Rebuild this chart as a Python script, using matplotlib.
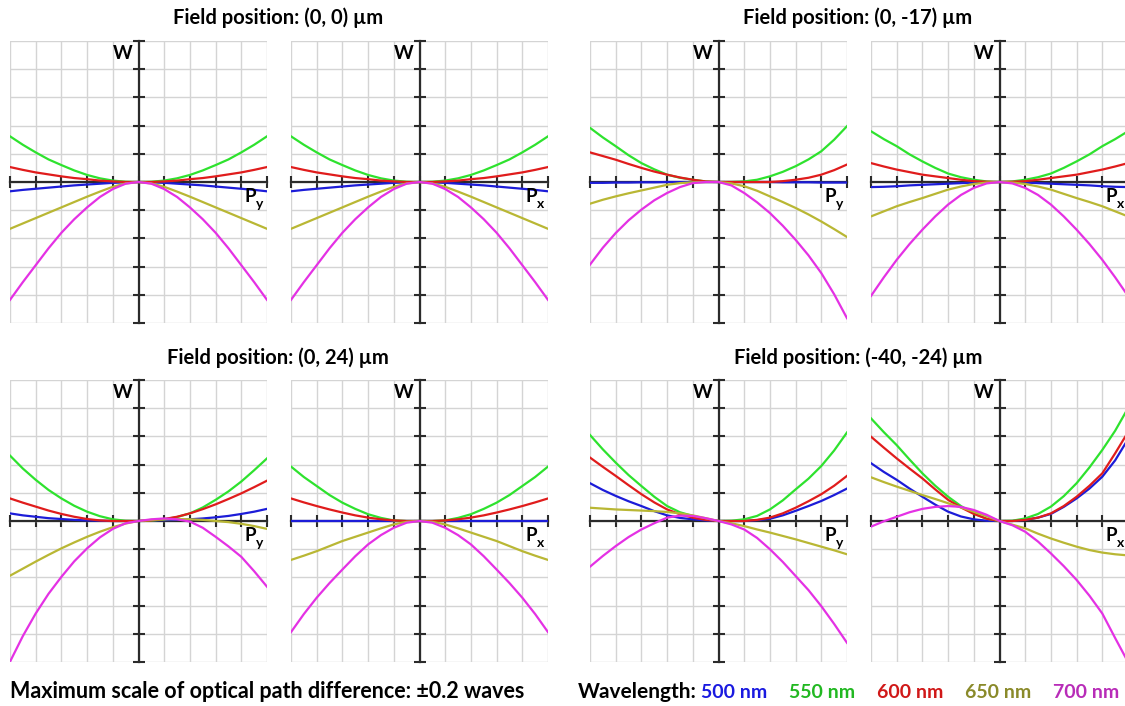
import numpy as np
import matplotlib
matplotlib.use("Agg")
import matplotlib.pyplot as plt

plt.rcParams['font.family'] = ['Lato', 'DejaVu Sans']

# pupil coordinate samples (normalised), -1 ... 1 in steps of 0.1
pupil = [-1.0, -0.9, -0.8, -0.7, -0.6, -0.5, -0.4, -0.3, -0.2, -0.1, 0.0,
         0.1, 0.2, 0.3, 0.4, 0.5, 0.6, 0.7, 0.8, 0.9, 1.0]

wavelengths = [500, 550, 600, 650, 700]
line_colors = ['#1c1cd8', '#2ee22e', '#e01c1c', '#b9b734', '#e431e4']
text_colors = ['#1a1ae0', '#22b822', '#d01818', '#8a8a2a', '#b82cb8']

# OPD, in grid divisions (1 division = 0.04 waves)
# field (0, 0) um, tangential
f00_py = {
    500: [-0.33, -0.28, -0.24, -0.2, -0.16, -0.12, -0.09, -0.06, -0.03, -0.01, 0,
          -0.01, -0.03, -0.06, -0.09, -0.12, -0.16, -0.2, -0.24, -0.28, -0.33],
    550: [1.62, 1.32, 1.05, 0.8, 0.6, 0.41, 0.25, 0.13, 0.05, 0.01, 0,
          0.01, 0.05, 0.13, 0.25, 0.41, 0.6, 0.8, 1.05, 1.32, 1.62],
    600: [0.53, 0.43, 0.34, 0.27, 0.2, 0.14, 0.1, 0.05, 0.02, 0.0, 0,
          0.0, 0.02, 0.05, 0.1, 0.14, 0.2, 0.27, 0.34, 0.43, 0.53],
    650: [-1.66, -1.47, -1.28, -1.09, -0.9, -0.71, -0.52, -0.34, -0.17, -0.05, 0,
          -0.05, -0.17, -0.34, -0.52, -0.71, -0.9, -1.09, -1.28, -1.47, -1.66],
    700: [-4.18, -3.55, -2.95, -2.35, -1.8, -1.32, -0.9, -0.53, -0.25, -0.06, 0,
          -0.06, -0.25, -0.53, -0.9, -1.32, -1.8, -2.35, -2.95, -3.55, -4.18],
}
# field (0, 0) um, sagittal
f00_px = {
    500: [-0.33, -0.28, -0.24, -0.2, -0.16, -0.12, -0.09, -0.06, -0.03, -0.01, 0,
          -0.01, -0.03, -0.06, -0.09, -0.12, -0.16, -0.2, -0.24, -0.28, -0.33],
    550: [1.62, 1.32, 1.05, 0.8, 0.6, 0.41, 0.25, 0.13, 0.05, 0.01, 0,
          0.01, 0.05, 0.13, 0.25, 0.41, 0.6, 0.8, 1.05, 1.32, 1.62],
    600: [0.53, 0.43, 0.34, 0.27, 0.2, 0.14, 0.1, 0.05, 0.02, 0.0, 0,
          0.0, 0.02, 0.05, 0.1, 0.14, 0.2, 0.27, 0.34, 0.43, 0.53],
    650: [-1.66, -1.47, -1.28, -1.09, -0.9, -0.71, -0.52, -0.34, -0.17, -0.05, 0,
          -0.05, -0.17, -0.34, -0.52, -0.71, -0.9, -1.09, -1.28, -1.47, -1.66],
    700: [-4.18, -3.55, -2.95, -2.35, -1.8, -1.32, -0.9, -0.53, -0.25, -0.06, 0,
          -0.06, -0.25, -0.53, -0.9, -1.32, -1.8, -2.35, -2.95, -3.55, -4.18],
}
# field (0, -17) um
f017_py = {
    500: [-0.03, -0.03, -0.02, -0.02, -0.01, -0.01, 0, 0, 0, 0, 0,
          0, 0, 0, 0, -0.01, -0.01, -0.01, -0.02, -0.02, -0.02],
    550: [1.92, 1.58, 1.27, 0.95, 0.67, 0.45, 0.26, 0.15, 0.08, 0.02, 0,
          0.0, 0.02, 0.08, 0.2, 0.36, 0.56, 0.8, 1.09, 1.5, 1.98],
    600: [1.05, 0.92, 0.79, 0.64, 0.5, 0.37, 0.26, 0.16, 0.08, 0.02, 0,
          0, 0, 0, 0, 0.03, 0.08, 0.15, 0.26, 0.42, 0.62],
    650: [-0.77, -0.63, -0.51, -0.4, -0.3, -0.2, -0.1, -0.04, -0.01, 0, 0,
          -0.05, -0.15, -0.31, -0.51, -0.71, -0.92, -1.15, -1.4, -1.67, -1.95],
    700: [-2.93, -2.33, -1.81, -1.36, -0.98, -0.65, -0.39, -0.18, -0.04, 0.0, 0,
          -0.12, -0.39, -0.72, -1.1, -1.55, -2.05, -2.6, -3.23, -3.98, -4.83],
}
f017_px = {
    500: [-0.18, -0.17, -0.15, -0.12, -0.1, -0.08, -0.06, -0.04, -0.02, -0.01, 0,
          -0.01, -0.02, -0.04, -0.06, -0.08, -0.1, -0.12, -0.15, -0.17, -0.18],
    550: [1.8, 1.52, 1.27, 0.98, 0.73, 0.5, 0.3, 0.17, 0.08, 0.02, 0,
          0.02, 0.08, 0.17, 0.3, 0.5, 0.73, 0.98, 1.27, 1.52, 1.8],
    600: [0.67, 0.55, 0.44, 0.35, 0.26, 0.2, 0.14, 0.08, 0.03, 0.01, 0,
          0.01, 0.03, 0.08, 0.14, 0.2, 0.26, 0.35, 0.44, 0.55, 0.67],
    650: [-1.22, -1.04, -0.86, -0.71, -0.57, -0.42, -0.27, -0.16, -0.07, -0.02, 0,
          -0.02, -0.07, -0.16, -0.27, -0.42, -0.57, -0.71, -0.86, -1.04, -1.22],
    700: [-4.04, -3.38, -2.76, -2.2, -1.69, -1.22, -0.8, -0.46, -0.21, -0.05, 0,
          -0.05, -0.21, -0.46, -0.8, -1.22, -1.69, -2.2, -2.76, -3.38, -4.04],
}
# field (0, 24) um
f024_py = {
    500: [0.27, 0.2, 0.15, 0.1, 0.07, 0.04, 0.02, 0.01, 0, 0, 0,
          0.02, 0.03, 0.04, 0.06, 0.09, 0.13, 0.18, 0.25, 0.33, 0.43],
    550: [2.32, 1.86, 1.46, 1.1, 0.8, 0.54, 0.33, 0.17, 0.06, 0.01, 0,
          0.01, 0.06, 0.14, 0.27, 0.48, 0.75, 1.05, 1.4, 1.8, 2.22],
    600: [0.8, 0.65, 0.51, 0.37, 0.25, 0.15, 0.07, 0.02, 0, 0, 0,
          0.02, 0.07, 0.15, 0.27, 0.42, 0.59, 0.78, 0.98, 1.2, 1.43],
    650: [-1.94, -1.69, -1.44, -1.2, -0.97, -0.76, -0.56, -0.38, -0.22, -0.09, 0,
          0.04, 0.06, 0.07, 0.06, 0.04, 0.0, -0.04, -0.1, -0.18, -0.28],
    700: [-4.99, -4.08, -3.28, -2.58, -1.98, -1.43, -0.97, -0.58, -0.28, -0.08, 0,
          0.06, 0.09, 0.06, -0.02, -0.24, -0.56, -0.9, -1.27, -1.78, -2.33],
}
f024_px = {
    500: [0, 0, 0, 0, 0, 0, 0, 0, 0, 0, 0,
          0, 0, 0, 0, 0, 0, 0, 0, 0, 0],
    550: [1.93, 1.56, 1.24, 0.92, 0.65, 0.43, 0.24, 0.11, 0.02, 0, 0,
          0, 0.02, 0.11, 0.24, 0.43, 0.65, 0.92, 1.24, 1.56, 1.93],
    600: [0.8, 0.66, 0.53, 0.41, 0.3, 0.2, 0.12, 0.06, 0.02, 0, 0,
          0, 0.02, 0.06, 0.12, 0.2, 0.3, 0.41, 0.53, 0.66, 0.8],
    650: [-1.38, -1.23, -1.07, -0.89, -0.71, -0.56, -0.41, -0.26, -0.12, -0.03, 0,
          -0.03, -0.12, -0.26, -0.41, -0.56, -0.71, -0.89, -1.07, -1.23, -1.38],
    700: [-3.94, -3.3, -2.72, -2.2, -1.72, -1.25, -0.83, -0.5, -0.24, -0.06, 0,
          -0.06, -0.24, -0.5, -0.83, -1.25, -1.72, -2.2, -2.72, -3.3, -3.94],
}
# field (-40, -24) um
f4024_py = {
    500: [1.34, 1.1, 0.89, 0.7, 0.53, 0.35, 0.2, 0.11, 0.06, 0.02, 0,
          0, 0, 0.03, 0.08, 0.2, 0.36, 0.53, 0.71, 0.92, 1.15],
    550: [3.05, 2.54, 2.07, 1.63, 1.24, 0.86, 0.53, 0.31, 0.18, 0.07, 0,
          0.01, 0.06, 0.18, 0.41, 0.73, 1.12, 1.5, 1.95, 2.5, 3.14],
    600: [2.25, 1.92, 1.6, 1.27, 0.95, 0.66, 0.41, 0.24, 0.12, 0.04, 0,
          0, 0, 0.04, 0.12, 0.27, 0.47, 0.7, 0.95, 1.25, 1.6],
    650: [0.47, 0.44, 0.41, 0.39, 0.37, 0.35, 0.32, 0.27, 0.2, 0.1, 0,
          -0.08, -0.18, -0.3, -0.41, -0.53, -0.65, -0.78, -0.91, -1.04, -1.18],
    700: [-1.62, -1.24, -0.89, -0.57, -0.3, -0.08, 0.12, 0.19, 0.18, 0.1, 0,
          -0.12, -0.3, -0.6, -1.0, -1.45, -1.95, -2.45, -3.02, -3.65, -4.32],
}
f4024_px = {
    500: [2.05, 1.74, 1.46, 1.15, 0.86, 0.58, 0.33, 0.16, 0.06, 0.01, 0,
          0, 0.04, 0.12, 0.25, 0.5, 0.8, 1.15, 1.57, 2.15, 2.9],
    550: [3.64, 3.15, 2.69, 2.18, 1.69, 1.25, 0.86, 0.53, 0.27, 0.08, 0,
          0.01, 0.09, 0.25, 0.51, 0.88, 1.34, 1.9, 2.52, 3.2, 4.0],
    600: [2.99, 2.6, 2.22, 1.86, 1.51, 1.12, 0.75, 0.48, 0.25, 0.08, 0,
          0.0, 0.04, 0.12, 0.27, 0.53, 0.86, 1.25, 1.69, 2.4, 3.15],
    650: [1.55, 1.38, 1.22, 1.07, 0.92, 0.78, 0.63, 0.48, 0.33, 0.17, 0,
          -0.13, -0.26, -0.45, -0.62, -0.77, -0.91, -1.03, -1.12, -1.18, -1.22],
    700: [-0.2, -0.01, 0.15, 0.31, 0.43, 0.5, 0.53, 0.5, 0.39, 0.22, 0,
          -0.15, -0.38, -0.73, -1.15, -1.6, -2.09, -2.65, -3.28, -4.15, -5.0],
}

titles = ['Field position: (0, 0) \u00b5m', 'Field position: (0, -17) \u00b5m',
          'Field position: (0, 24) \u00b5m', 'Field position: (-40, -24) \u00b5m']

W, H = 1125, 706
fig = plt.figure(figsize=(W / 100, H / 100), dpi=100)

# panel boxes in pixels: left, top
panel_w, panel_h = 257, 282
panels = [
    (10, 41, f00_py, 'y'), (291, 41, f00_px, 'x'),
    (590, 41, f017_py, 'y'), (871, 41, f017_px, 'x'),
    (10, 380, f024_py, 'y'), (291, 380, f024_px, 'x'),
    (590, 380, f4024_py, 'y'), (871, 380, f4024_px, 'x'),
]

axis_col = '#2b2b2b'
for left, top, data, sub in panels:
    ax = fig.add_axes([left / W, (H - top - panel_h) / H, panel_w / W, panel_h / H])
    ax.set_xlim(-1, 1)
    ax.set_ylim(-0.2, 0.2)
    ax.set_xticks(np.linspace(-1, 1, 11))
    ax.set_yticks(np.linspace(-0.2, 0.2, 11))
    ax.grid(True, color='#d4d4d4', linewidth=1.0)
    ax.set_axisbelow(True)
    for s in ['top', 'right']:
        ax.spines[s].set_visible(False)
    ax.spines['left'].set_position('zero')
    ax.spines['bottom'].set_position('zero')
    for s in ['left', 'bottom']:
        ax.spines[s].set_color(axis_col)
        ax.spines[s].set_linewidth(1.6)
        ax.spines[s].set_zorder(2)
    ax.tick_params(direction='inout', length=8, width=1.5, color=axis_col,
                   labelbottom=False, labelleft=False)
    for wl, c in zip(wavelengths, line_colors):
        ax.plot(pupil, np.array(data[wl]) * 0.04, color=c, linewidth=1.6, zorder=3)
    ax.text(-0.12, 0.182, 'W', fontsize=13.5, fontweight='bold', ha='center', va='center')
    ax.text(0.87, -0.021, 'P', fontsize=13.5, fontweight='bold', ha='center', va='center')
    ax.text(0.94, -0.031, sub, fontsize=10, fontweight='bold', ha='center', va='center')

title_kw = dict(fontsize=14.5, fontweight='bold', ha='center', va='center')
fig.text(278 / W, 1 - 18 / H, titles[0], **title_kw)
fig.text(858 / W, 1 - 18 / H, titles[1], **title_kw)
fig.text(278 / W, 1 - 358 / H, titles[2], **title_kw)
fig.text(858 / W, 1 - 358 / H, titles[3], **title_kw)

fig.text(10 / W, 1 - 692 / H, 'Maximum scale of optical path difference: \u00b10.2 waves',
         fontsize=15.5, fontweight='bold', ha='left', va='center')
fig.text(578 / W, 1 - 692 / H, 'Wavelength:', fontsize=15, fontweight='bold',
         ha='left', va='center')
label_x = [701, 789, 877, 965, 1053]
for wl, c, lx in zip(wavelengths, text_colors, label_x):
    fig.text(lx / W, 1 - 692 / H, f'{wl} nm', fontsize=14, fontweight='bold',
             color=c, ha='left', va='center')

fig.savefig('out.png', dpi=100)
